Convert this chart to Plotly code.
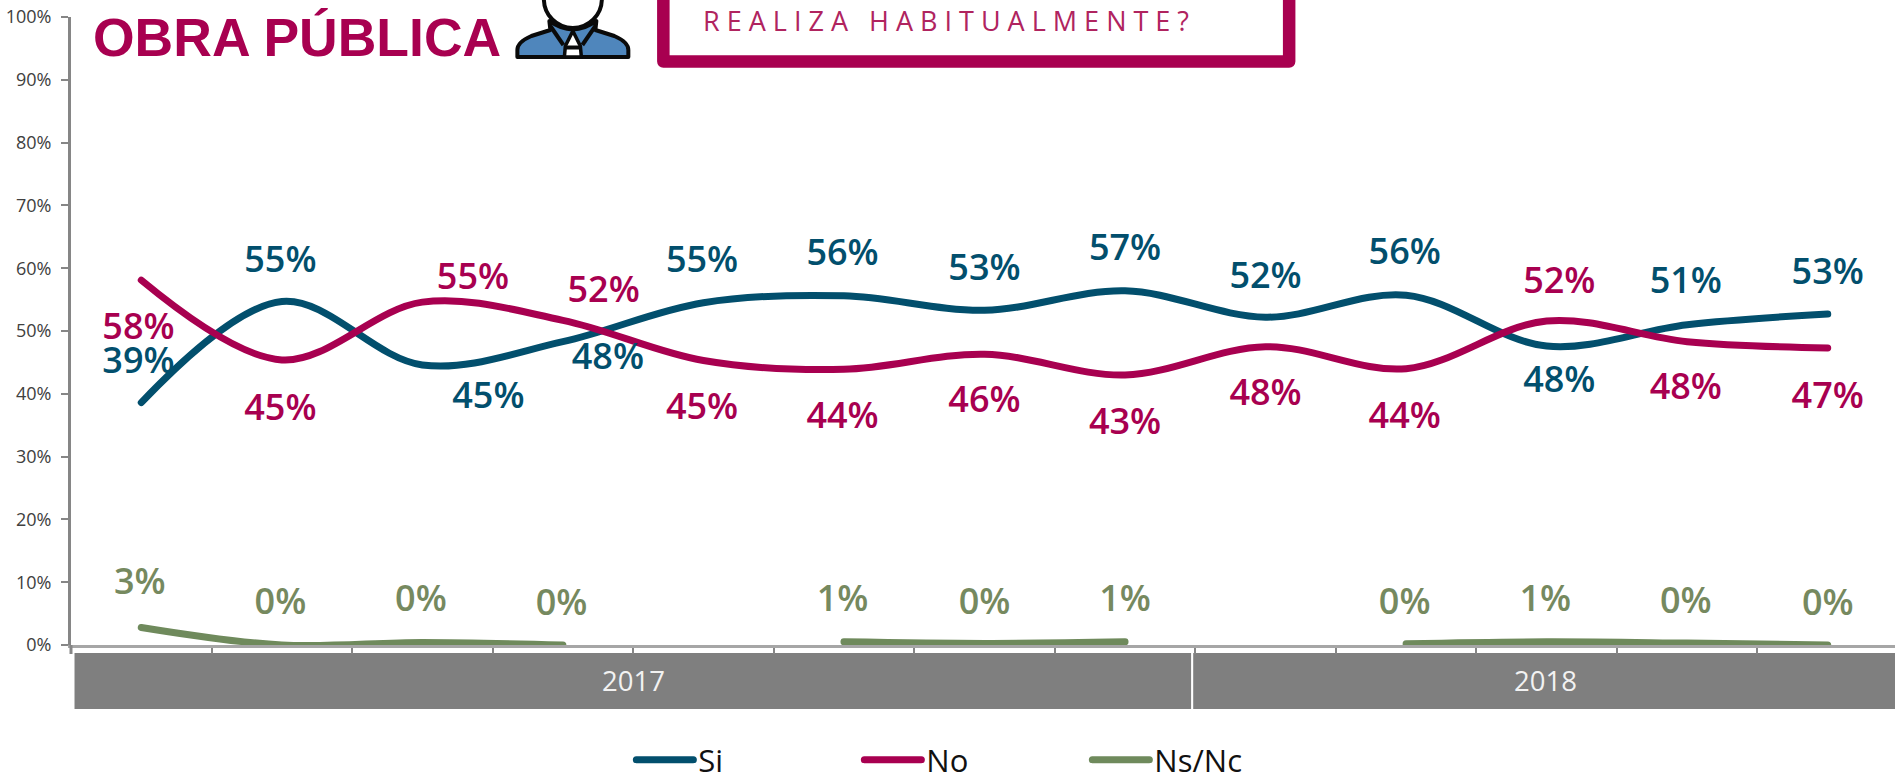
import plotly.graph_objects as go

W, H = 1895, 780
L, T, B = 70.5, 17, 135
PW, PH = W - L, H - T - B

idx = list(range(13))
si = [38.6, 54.7, 44.6, 48.3, 54.5, 55.6, 53.3, 56.4, 52.2, 55.7, 47.6, 51.0, 52.7]
no = [58.1, 45.4, 54.6, 51.7, 45.3, 43.9, 46.3, 43.0, 47.5, 44.0, 51.6, 48.3, 47.3]
ns = [2.8, 0.0, 0.4, 0.0, None, 0.5, 0.25, 0.5, None, 0.2, 0.5, 0.3, 0.0]

si_lab = [39, 55, 45, 48, 55, 56, 53, 57, 52, 56, 48, 51, 53]
no_lab = [58, 45, 55, 52, 45, 44, 46, 43, 48, 44, 52, 48, 47]
ns_lab = [3, 0, 0, 0, None, 1, 0, 1, None, 0, 1, 0, 0]

# label anchors, in axis units
si_lx = [-0.02, 0.99, 2.47, 3.32, 3.99, 4.99, 6, 7, 8, 8.99, 10.09, 10.99, 12]
si_ly = [44.8, 60.8, 39.2, 45.4, 60.8, 62.0, 59.5, 62.7, 58.3, 62.1, 41.7, 57.5, 58.9]
no_lx = [-0.02, 0.99, 2.36, 3.29, 3.99, 4.99, 6, 7, 8, 8.99, 10.09, 10.99, 12]
no_ly = [50.2, 37.3, 58.1, 56.0, 37.5, 36.0, 38.5, 35.0, 39.6, 36.0, 57.5, 40.6, 39.2]
ns_lx = [-0.01, 0.99, 1.99, 2.99, None, 4.99, 6, 7, None, 8.99, 9.99, 10.99, 12]
ns_ly = [9.5, 6.4, 6.8, 6.2, None, 6.8, 6.4, 6.8, None, 6.4, 6.8, 6.6, 6.2]

years = ["2017", "2018"]
year_span = [(-0.475, 7.47), (7.485, 12.6)]
year_mid = [3.5, 9.99]
yticks = list(range(0, 101, 10))
xticks = [i - 0.5 for i in range(14)]

BLUE, RED, GREEN = "#024F6D", "#A80050", "#6F8A5C"
GREEN_T = "#76895F"
LABEL_FONT = "Open Sans"

def px(x):
    return (x - L) / PW

def py(y):
    return (H - B - y) / PH

fig = go.Figure()
for name, vals, col in [("Si", si, BLUE), ("No", no, RED), ("Ns/Nc", ns, GREEN)]:
    fig.add_trace(go.Scatter(x=idx, y=vals, name=name, mode="lines", cliponaxis=False,
                             connectgaps=False,
                             line=dict(color=col, width=7, shape="spline", smoothing=1.0)))

def labels(xs, ys, vals, col):
    keep = [i for i, v in enumerate(vals) if v is not None]
    fig.add_trace(go.Scatter(x=[xs[i] for i in keep], y=[ys[i] for i in keep],
                             text=[f"{vals[i]}%" for i in keep], mode="text",
                             showlegend=False, cliponaxis=False, hoverinfo="skip",
                             textposition="middle center",
                             textfont=dict(family=LABEL_FONT, size=36, color=col, weight=600)))

labels(si_lx, si_ly, si_lab, BLUE)
labels(no_lx, no_ly, no_lab, RED)
labels(ns_lx, ns_ly, ns_lab, GREEN_T)

shapes = []
for (a, b) in year_span:
    shapes.append(dict(type="rect", xref="x", yref="paper", x0=a, x1=b, y0=py(709), y1=py(653),
                       fillcolor="#7F7F7F", line_width=0, layer="below"))
# y axis stub below zero
shapes.append(dict(type="line", xref="paper", yref="paper", x0=0, x1=0, y0=py(645), y1=py(654),
                   line=dict(color="#868686", width=3)))

def path(d, **kw):
    shapes.append(dict(type="path", xref="paper", yref="paper", path=d, **kw))

def P(cmds):
    out = []
    for c in cmds:
        if isinstance(c, str):
            out.append(c)
        else:
            out.append(f"{px(c[0]):.5f},{py(c[1]):.5f}")
    return " ".join(out)

# frame of the question box
path(P(["M", (663, -20), "L", (663, 61.5), "L", (1289, 61.5), "L", (1289, -20)]),
     line=dict(color=RED, width=12.5), fillcolor="rgba(0,0,0,0)")

# person icon
path(P(["M", (517, 57), "L", (517, 50), "Q", (517, 42), (531, 36), "L", (550, 30), "L", (549, 21),
        "Q", (572.5, 38), (596, 21), "L", (595, 30), "L", (614, 36), "Q", (628, 42), (628, 50),
        "L", (628, 57), "Z"]),
     line=dict(color="#0A0A0A", width=4), fillcolor="#4F86BC")
path(P(["M", (564, 57), "L", (565, 46), "L", (572.5, 31), "L", (580, 46), "L", (581, 57), "Z"]),
     line=dict(color="#0A0A0A", width=3.5), fillcolor="#FFFFFF")
path(P(["M", (565, 47.5), "L", (580, 47.5)]), line=dict(color="#0A0A0A", width=4))
path(P(["M", (550, 26), "L", (563, 45)]), line=dict(color="#0A0A0A", width=4))
path(P(["M", (595, 26), "L", (582, 45)]), line=dict(color="#0A0A0A", width=4))
shapes.append(dict(type="circle", xref="paper", yref="paper", x0=px(543.5), x1=px(601.5),
                   y0=py(28), y1=py(-30), fillcolor="#FFFFFF",
                   line=dict(color="#0A0A0A", width=4)))

ann = []
for y, m in zip(years, year_mid):
    ann.append(dict(x=m, y=py(680), xref="x", yref="paper", text=y, showarrow=False,
                    font=dict(family="Open Sans", size=27.5, color="#F2F2F2"),
                    xanchor="center", yanchor="middle"))
ann.append(dict(x=px(91), y=py(37), xref="paper", yref="paper", text="<b>OBRA PÚBLICA</b>",
                showarrow=False, xanchor="left", yanchor="middle",
                font=dict(family="Liberation Sans", size=53.5, color=RED)))
ann.append(dict(x=px(701), y=py(20), xref="paper", yref="paper",
                text="R E A L I Z A   H A B I T U A L M E N T E ?",
                showarrow=False, xanchor="left", yanchor="middle",
                font=dict(family="Open Sans", size=27, color="#B0245F")))

fig.update_layout(
    width=W, height=H, margin=dict(l=L, r=0, t=T, b=B, autoexpand=False),
    paper_bgcolor="white", plot_bgcolor="white",
    font=dict(family="Open Sans"), shapes=shapes, annotations=ann,
    showlegend=True,
    legend=dict(orientation="h", x=px(631), y=py(760), xanchor="left", yanchor="middle",
                itemwidth=57, entrywidth=156, entrywidthmode="pixels", tracegroupgap=0,
                bgcolor="rgba(0,0,0,0)", font=dict(family="Open Sans", size=31, color="#111111")),
    xaxis=dict(range=[-0.5, (W - L) / ((1898 - L) / 13) - 0.5], tickvals=xticks, ticks="outside",
               ticklen=6, tickcolor="#868686", tickwidth=2, showticklabels=False, showgrid=False,
               zeroline=False, showline=True, linecolor="#A6A6A6", linewidth=3),
    yaxis=dict(range=[0, 100], tickvals=yticks, ticktext=[f"{v}%" for v in yticks], ticks="outside",
               ticklen=7, tickcolor="#868686", tickwidth=2, showgrid=False, zeroline=False,
               showline=True, linecolor="#868686", linewidth=3, ticklabelstandoff=6,
               tickfont=dict(family="Open Sans", size=18, color="#404040")),
)

post = """
document.body.style.margin='0';
document.querySelectorAll('.scatterlayer path.js-line, .legendlines path').forEach(function(p){p.style.strokeLinecap='round';});
document.querySelectorAll('.shapelayer path').forEach(function(p){p.style.strokeLinejoin='round';});
"""
fig.write_html("out.html", post_script=post, config={"displayModeBar": False})
